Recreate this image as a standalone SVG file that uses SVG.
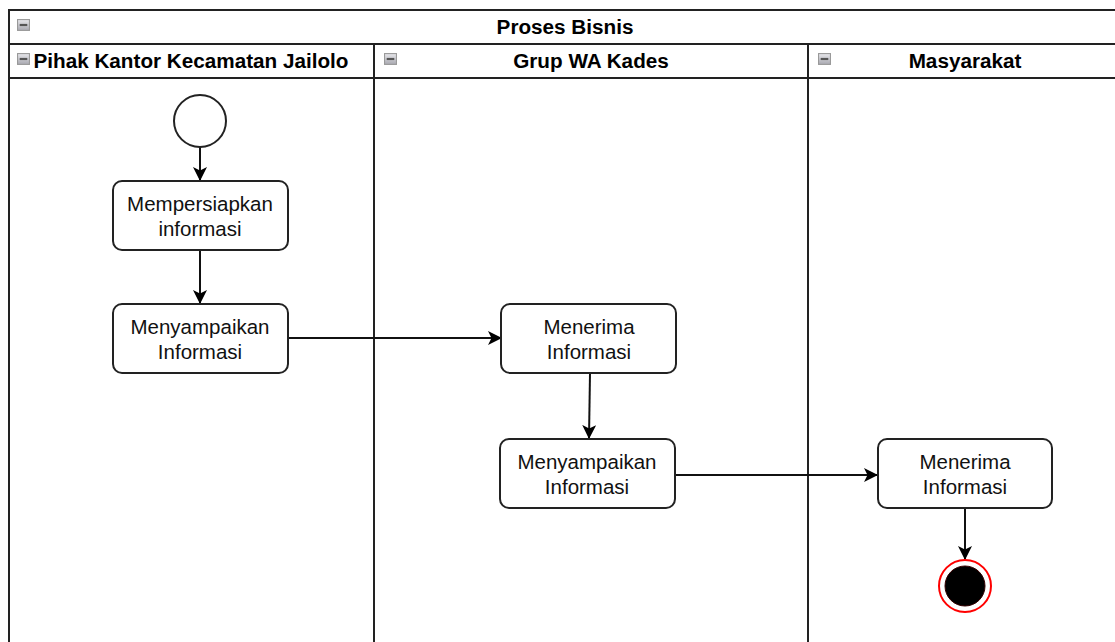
<svg xmlns="http://www.w3.org/2000/svg" width="1115" height="642" viewBox="0 0 1115 642">
<style>
.pool{fill:#fff;stroke:#222;stroke-width:2}
.hdr{font-family:"Liberation Sans",Arial,sans-serif;font-weight:bold;font-size:20.7px;fill:#000;text-anchor:middle}
.node rect{fill:#fff;stroke:#222;stroke-width:2}
.txt{font-family:"Liberation Sans",Arial,sans-serif;font-size:20.5px;fill:#111;text-anchor:middle}
.edge{fill:none;stroke:#111;stroke-width:2;marker-end:url(#arr)}
.ico{fill:url(#g);stroke:#999;stroke-width:1}
.icl{stroke:#555;stroke-width:2}
</style>
<defs>
<linearGradient id="g" x1="0" y1="0" x2="0" y2="1"><stop offset="0" stop-color="#e8e8ec"/><stop offset="1" stop-color="#a8a8b0"/></linearGradient>
<marker id="arr" viewBox="0 0 14 14" refX="13" refY="7" markerWidth="14" markerHeight="14" markerUnits="userSpaceOnUse" orient="auto"><path d="M0,0 L14,7 L0,14 L3.5,7 Z" fill="#000"/></marker>
<symbol id="icon" viewBox="0 0 12 11"><rect class="ico" x="0.5" y="0.5" width="11" height="10"/><line class="icl" x1="2.5" y1="5.5" x2="9.5" y2="5.5"/></symbol>
</defs>
<g id="pool">
<rect class="pool" x="9" y="10" width="1120" height="650"/>
<line class="pool" x1="9" y1="44" x2="1130" y2="44"/>
<line class="pool" x1="9" y1="78" x2="1130" y2="78"/>
<line class="pool" x1="374" y1="44" x2="374" y2="660"/>
<line class="pool" x1="808" y1="44" x2="808" y2="660"/>
<use href="#icon" x="17" y="19" width="13" height="12"/>
<text class="hdr" x="565" y="34">Proses Bisnis</text>
</g>
<g id="lane1">
<use href="#icon" x="17" y="53" width="13" height="12"/>
<text class="hdr" x="191" y="68">Pihak Kantor Kecamatan Jailolo</text>
</g>
<g id="lane2">
<use href="#icon" x="384" y="53" width="13" height="12"/>
<text class="hdr" x="591" y="68">Grup WA Kades</text>
</g>
<g id="lane3">
<use href="#icon" x="818" y="53" width="13" height="12"/>
<text class="hdr" x="965" y="68">Masyarakat</text>
</g>
<g id="connectors">
<path class="edge" d="M200,147 L200,180"/>
<path class="edge" d="M200,250 L200,303"/>
<path class="edge" d="M288,338 L501,338"/>
<path class="edge" d="M590,373 L589,438"/>
<path class="edge" d="M675,475 L877,475"/>
<path class="edge" d="M965,508 L965,559"/>
</g>
<g id="start"><circle cx="200" cy="121" r="26" fill="#fff" stroke="#222" stroke-width="2"/></g>
<g id="n1" class="node"><rect x="113" y="181" width="175" height="69" rx="9"/><text class="txt" x="200" y="211">Mempersiapkan</text><text class="txt" x="200" y="236">informasi</text></g>
<g id="n2" class="node"><rect x="113" y="304" width="175" height="69" rx="9"/><text class="txt" x="200" y="334">Menyampaikan</text><text class="txt" x="200" y="359">Informasi</text></g>
<g id="n3" class="node"><rect x="501" y="304" width="175" height="69" rx="9"/><text class="txt" x="589" y="334">Menerima</text><text class="txt" x="589" y="359">Informasi</text></g>
<g id="n4" class="node"><rect x="500" y="439" width="175" height="69" rx="9"/><text class="txt" x="587" y="469">Menyampaikan</text><text class="txt" x="587" y="494">Informasi</text></g>
<g id="n5" class="node"><rect x="878" y="439" width="174" height="69" rx="9"/><text class="txt" x="965" y="469">Menerima</text><text class="txt" x="965" y="494">Informasi</text></g>
<g id="end"><circle cx="965" cy="586" r="26" fill="#fff" stroke="#f00" stroke-width="2"/><circle cx="965" cy="586" r="20" fill="#000" stroke="#300" stroke-width="1"/></g>
</svg>
